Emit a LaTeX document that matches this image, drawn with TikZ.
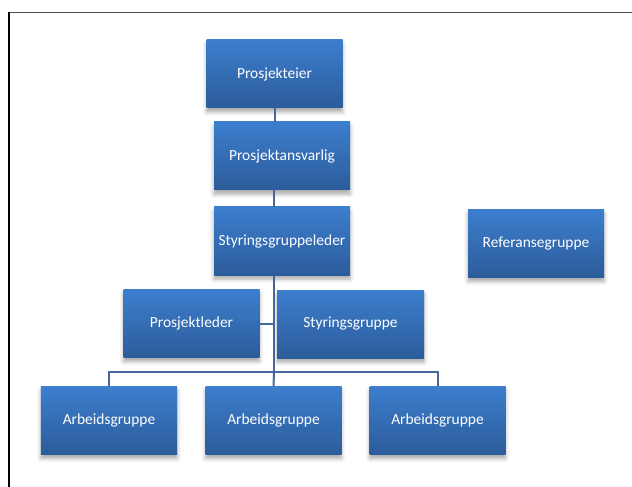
\documentclass[tikz,border=0pt]{standalone}
\usepackage{fontspec}
\setmainfont{Carlito}
\usetikzlibrary{positioning,shadows.blur,calc}
\definecolor{boxtop}{RGB}{60,126,206}
\definecolor{boxbottom}{RGB}{44,92,154}
\definecolor{link}{RGB}{68,104,155}
\tikzset{
    base/.style={
        rectangle,
        top color=boxtop,
        bottom color=boxbottom,
        draw=none,
        text=white,
        font=\fontsize{15.5}{18}\selectfont,
        minimum width=136bp,
        minimum height=68bp,
        inner sep=0pt,
        blur shadow={shadow xshift=0bp, shadow yshift=-4bp,
            shadow blur radius=4bp, shadow opacity=35},
    },
    % Connector
    link/.style={
        draw=link,
        line width=2bp,
    },
}

\begin{document}
\begin{tikzpicture}[x=1bp,y=-1bp]
    \useasboundingbox (0,0) rectangle (632,487);

    % Frame
    \draw[black!70, line width=1.6bp] (8,12.5) -- (632,12.5);
    \draw[black, line width=2bp] (8.5,12) -- (8.5,487);

    % Boxes
    \node[base] (eier) at (274.5,74) {Prosjekteier};
    \node[base] (ansvarlig) at (282,156) {Prosjektansvarlig};
    \node[base] (styleder) at (282,241) {Styringsgruppeleder};
    \node[base] (prleder) at (191.5,323.5) {Prosjektleder};
    \node[base, minimum width=147bp] (stygruppe) at (350.5,324) {Styringsgruppe};
    \node[base] (referanse) at (536,243.5) {Referansegruppe};

    \node[base] (arb1) at (109,420.5) {Arbeidsgruppe};
    \node[base] (arb2) at (273.5,420.5) {Arbeidsgruppe};
    \node[base] (arb3) at (437.5,420.5) {Arbeidsgruppe};

    % Connectors
    \coordinate (bus) at (274,372);
    \draw[link] (eier.south) -- (eier.south |- ansvarlig.north);
    \draw[link] (bus |- ansvarlig.south) -- (bus |- styleder.north);
    \draw[link] (bus |- styleder.south) -- (bus);
    \draw[link] (prleder.east) -- (prleder.east -| bus);
    \draw[link] (arb1.north) |- (bus) -| (arb3.north);
    \draw[link] (bus) -- (arb2.north);
\end{tikzpicture}
\end{document}
